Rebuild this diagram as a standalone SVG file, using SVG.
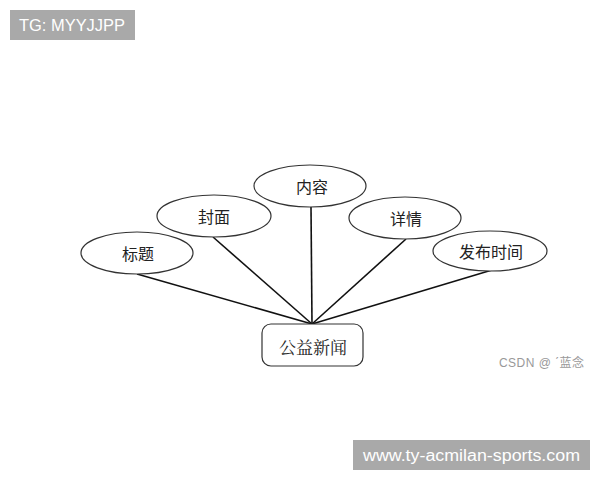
<svg xmlns="http://www.w3.org/2000/svg" width="600" height="480" viewBox="0 0 600 480">
<style>
.attr{fill:#fff;stroke:#333;stroke-width:1.2}
.t{font-family:"Noto Sans CJK SC","Liberation Sans",sans-serif;font-size:16px;fill:#222;text-anchor:middle;dominant-baseline:central}
.c{stroke:#111;stroke-width:1.6;fill:none}
.banner{fill:#a9a9a9}
.bt{font-family:"Liberation Sans","DejaVu Sans",sans-serif;font-size:16px;fill:#fff}
</style>
<rect width="600" height="480" fill="#fff"/>
<g id="banner-top"><rect class="banner" x="10" y="10" width="125" height="30"/><text class="bt" x="19" y="31" textLength="106" lengthAdjust="spacingAndGlyphs">TG: MYYJJPP</text></g>
<g id="connectors">
<line class="c" x1="137" y1="274" x2="312" y2="324"/>
<line class="c" x1="213" y1="237" x2="312" y2="324"/>
<line class="c" x1="311" y1="207" x2="312" y2="324"/>
<line class="c" x1="406" y1="239" x2="312" y2="324"/>
<line class="c" x1="492" y1="270" x2="312" y2="324"/>
</g>
<g id="n-biaoti"><ellipse class="attr" cx="137" cy="253" rx="56" ry="21"/><text class="t" x="138" y="253">标题</text></g>
<g id="n-fengmian"><ellipse class="attr" cx="214" cy="216" rx="57" ry="21"/><text class="t" x="214" y="216">封面</text></g>
<g id="n-neirong"><ellipse class="attr" cx="310" cy="186" rx="56" ry="21"/><text class="t" x="312" y="186">内容</text></g>
<g id="n-xiangqing"><ellipse class="attr" cx="405" cy="218" rx="56" ry="21"/><text class="t" x="406" y="218">详情</text></g>
<g id="n-fabushijian"><ellipse class="attr" cx="490" cy="251" rx="57" ry="20"/><text class="t" x="491" y="251">发布时间</text></g>
<g id="n-gongyixinwen"><rect class="attr" x="262" y="324" width="101" height="42" rx="9"/><text class="t" x="313" y="346" style="font-family:'Noto Serif CJK SC','Noto Sans CJK SC',serif;font-size:17px">公益新闻</text></g>
<g id="watermark"><text x="499" y="367" textLength="85" style="font-family:'Liberation Sans','Noto Sans CJK SC',sans-serif;font-size:12px;fill:#999">CSDN @ ˊ蓝念</text></g>
<g id="banner-bottom"><rect class="banner" x="353" y="440" width="237" height="30"/><text class="bt" x="363" y="461" font-size="17" textLength="217" lengthAdjust="spacingAndGlyphs">www.ty-acmilan-sports.com</text></g>
</svg>
